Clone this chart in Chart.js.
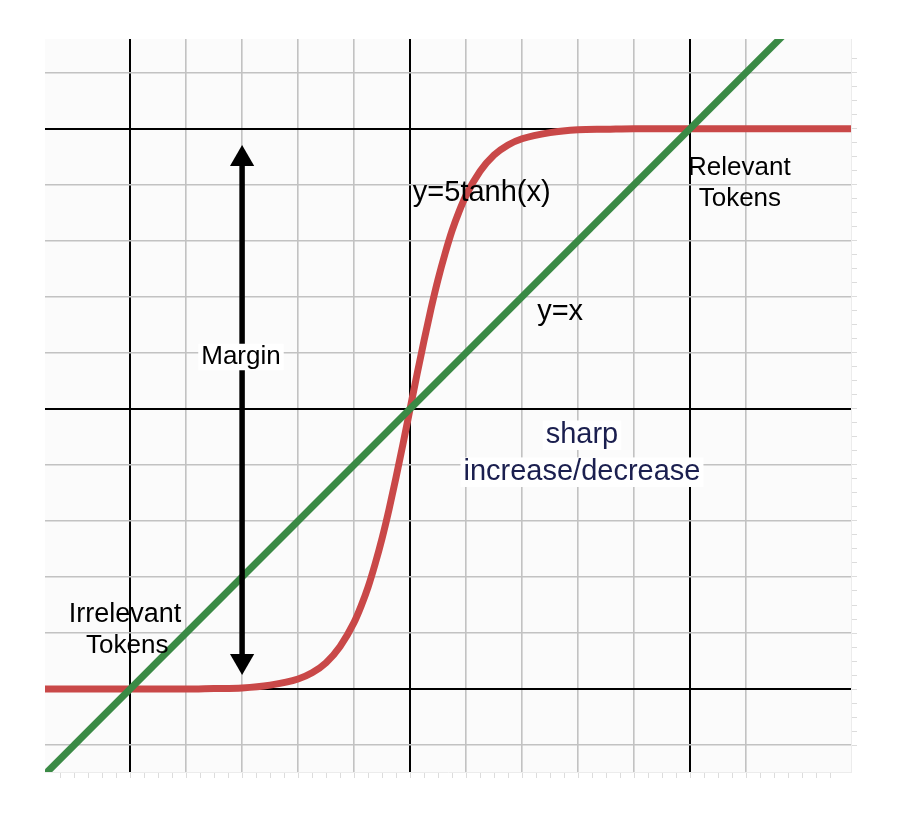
<!DOCTYPE html>
<html>
<head>
<meta charset="utf-8">
<script src="https://cdn.jsdelivr.net/npm/chart.js@4.4.0/dist/chart.umd.min.js"></script>
<style>
  html, body { margin: 0; padding: 0; background: #fff; }
  #wrap { width: 897px; height: 814px; }
</style>
</head>
<body>
<div id="wrap"><canvas id="tanhChart"></canvas></div>
<script>
// values
const tanhX = [-6.6, -5, -4, -3.5, -3, -2.5, -2, -1.75, -1.5, -1.25, -1, -0.875, -0.75, -0.625, -0.5, -0.375, -0.25, -0.125,
  0, 0.125, 0.25, 0.375, 0.5, 0.625, 0.75, 0.875, 1, 1.25, 1.5, 1.75, 2, 2.5, 3, 3.5, 4, 5, 8];
const tanhY = [-5, -5, -5, -4.99, -4.98, -4.93, -4.82, -4.71, -4.53, -4.24, -3.81, -3.52, -3.18, -2.77, -2.31, -1.79, -1.22, -0.62,
  0, 0.62, 1.22, 1.79, 2.31, 2.77, 3.18, 3.52, 3.81, 4.24, 4.53, 4.71, 4.82, 4.93, 4.98, 4.99, 5, 5, 5];
const lineX = [-6.6, 7];
const lineY = [-6.6, 7];
const marginX = [-3, -3];
const marginY = [4.46, -4.5];
const xRange = [-6.52, 7.875];
const yRange = [-6.48, 6.6];
const strongLines = [-5, 0, 5];

// annotation texts [text, x, baseline y, colour, size, white box, align]
const notes = [
  ['y=5tanh(x)', 0.05, 3.71, '#000', 29, false, 'left'],
  ['Relevant', 5.88, 4.18, '#000', 26, false, 'center'],
  ['Tokens', 5.89, 3.62, '#000', 26, false, 'center'],
  ['y=x', 2.68, 1.59, '#000', 29, false, 'center'],
  ['Margin', -3.02, 0.8, '#000', 26, true, 'center'],
  ['sharp', 3.07, -0.61, '#1b1f4f', 29, true, 'center'],
  ['increase/decrease', 3.07, -1.27, '#1b1f4f', 29, true, 'center'],
  ['Irrelevant', -5.09, -3.8, '#000', 27, false, 'center'],
  ['Tokens', -5.05, -4.36, '#000', 26, false, 'center']
];

const onlyStep = step => scale => {
  scale.ticks = scale.ticks.filter(t => Math.abs(t.value / step - Math.round(t.value / step)) < 1e-6);
};

const gridColor = ctx => strongLines.includes(ctx.tick.value) ? '#000' : '#c2c2c2';
const gridWidth = ctx => strongLines.includes(ctx.tick.value) ? 2 : 1.6;

const plotBg = {
  id: 'plotBg',
  beforeDraw(chart) {
    const {ctx, chartArea: a} = chart;
    ctx.save();
    ctx.fillStyle = '#fbfbfb';
    ctx.fillRect(a.left, a.top, a.right - a.left, a.bottom - a.top);
    ctx.restore();
  }
};

const labels = {
  id: 'labels',
  afterDatasetsDraw(chart) {
    const {ctx, scales: {x, y}} = chart;
    ctx.save();
    notes.forEach(([text, dx, dy, color, size, box, align]) => {
      ctx.font = size + 'px "Liberation Sans", Arial, sans-serif';
      ctx.textAlign = align;
      ctx.textBaseline = 'alphabetic';
      const px = x.getPixelForValue(dx);
      const py = y.getPixelForValue(dy);
      if (box) {
        const w = ctx.measureText(text).width;
        const left = align === 'center' ? px - w / 2 : px;
        ctx.fillStyle = '#fff';
        ctx.fillRect(left - 3, py - size * 0.78, w + 6, size * 1.02);
      }
      ctx.fillStyle = color;
      ctx.fillText(text, px, py);
    });
    ctx.restore();
  }
};

const ctx = document.getElementById('tanhChart').getContext('2d');
const tanhChart = new Chart(ctx, {
  type: 'line',
  data: {
    datasets: [{
      label: 'y=x',
      data: lineX.map((v, i) => ({x: v, y: lineY[i]})),
      borderColor: '#3a8a45',
      borderWidth: 7,
      pointRadius: 0,
      order: 1
    }, {
      label: 'y=5tanh(x)',
      data: tanhX.map((v, i) => ({x: v, y: tanhY[i]})),
      borderColor: '#c94848',
      borderWidth: 7,
      pointRadius: 0,
      cubicInterpolationMode: 'monotone',
      order: 2
    }, {
      label: 'Margin',
      data: marginX.map((v, i) => ({x: v, y: marginY[i]})),
      borderColor: '#000',
      borderWidth: 5.5,
      pointStyle: 'triangle',
      pointRadius: 14,
      pointRotation: [0, 180],
      pointBackgroundColor: '#000',
      pointBorderWidth: 0,
      order: 0
    }]
  },
  options: {
    responsive: true,
    maintainAspectRatio: false,
    animation: false,
    layout: {
      padding: {left: 45, right: 40, top: 39, bottom: 36}
    },
    scales: {
      x: {
        type: 'linear',
        min: xRange[0],
        max: xRange[1],
        afterBuildTicks: onlyStep(1),
        ticks: {display: false, stepSize: 1},
        border: {display: false},
        grid: {color: gridColor, lineWidth: gridWidth, drawTicks: false}
      },
      y: {
        type: 'linear',
        min: yRange[0],
        max: yRange[1],
        afterBuildTicks: onlyStep(1),
        ticks: {display: false, stepSize: 1},
        border: {display: false},
        grid: {color: gridColor, lineWidth: gridWidth, drawTicks: false}
      },
      xMinor: {
        type: 'linear',
        position: 'bottom',
        min: xRange[0],
        max: xRange[1],
        afterBuildTicks: onlyStep(0.25),
        ticks: {display: false, stepSize: 0.25},
        border: {display: true, color: '#ececec', width: 1},
        grid: {drawOnChartArea: false, drawTicks: true, tickLength: 6, color: '#dcdcdc'}
      },
      yMinor: {
        type: 'linear',
        position: 'right',
        min: yRange[0],
        max: yRange[1],
        afterBuildTicks: onlyStep(0.25),
        ticks: {display: false, stepSize: 0.25},
        border: {display: true, color: '#ececec', width: 1},
        grid: {drawOnChartArea: false, drawTicks: true, tickLength: 6, color: '#dcdcdc'}
      }
    },
    plugins: {
      legend: {display: false},
      tooltip: {enabled: false}
    }
  },
  plugins: [plotBg, labels]
});
</script>
</body>
</html>
